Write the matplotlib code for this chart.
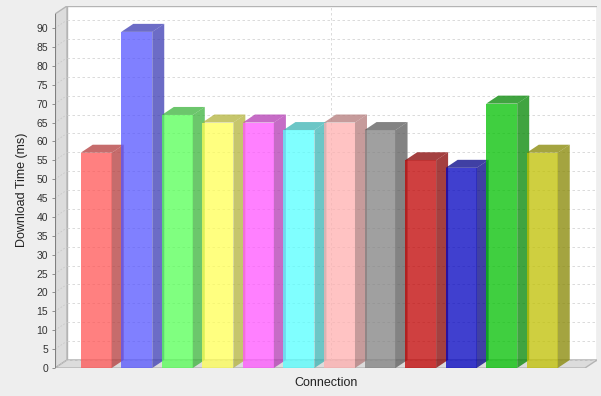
import matplotlib
matplotlib.use("Agg")
import matplotlib.pyplot as plt
from matplotlib.patches import Polygon
from matplotlib.colors import to_rgb

plt.rcParams['font.family'] = ['Liberation Sans', 'DejaVu Sans']

# data
download_ms = [57, 89, 67, 65, 65, 63, 65, 63, 55, 53, 70, 57]
series_colors = ['#ff5555', '#5555ff', '#55ff55', '#ffff55', '#ff55ff', '#55ffff',
                 '#ffafaf', '#808080', '#c00000', '#0000c0', '#00c000', '#c0c000']
y_ticks = list(range(0, 95, 5))

x_title = "Connection"
y_title = "Download Time (ms)"

# 3d look
DX = 0.296      # depth offset in category units
DY = 2.12       # depth offset in value units
BAR_W = 0.764
XMIN, XMAX = -1.016, 12.35
YMAX = 95.85
ALPHA = 0.75

fig = plt.figure(figsize=(6.01, 3.96), dpi=100, facecolor='#eeeeee')
ax = fig.add_axes([55 / 601, 28 / 396, 542 / 601, 362 / 396])
ax.set_xlim(XMIN, XMAX)
ax.set_ylim(0, YMAX)
ax.set_facecolor('none')
for s in ax.spines.values():
    s.set_visible(False)

edge = '#b4b4b4'
# back wall, left wall, floor
ax.add_patch(Polygon([(XMIN + DX, DY), (XMAX, DY), (XMAX, YMAX), (XMIN + DX, YMAX)],
                     closed=True, facecolor='white', edgecolor=edge, lw=1, zorder=0))
ax.add_patch(Polygon([(XMIN, 0), (XMIN + DX, DY), (XMIN + DX, YMAX), (XMIN, YMAX - DY)],
                     closed=True, facecolor='#dcdcdc', edgecolor=edge, lw=1, zorder=0))
ax.add_patch(Polygon([(XMIN, 0), (XMAX - DX, 0), (XMAX, DY), (XMIN + DX, DY)],
                     closed=True, facecolor='#dcdcdc', edgecolor=edge, lw=1, zorder=0))

# grid lines on walls
for v in y_ticks:
    ax.plot([XMIN + DX, XMAX], [v + DY, v + DY], color='#d4d4d4', lw=0.6,
            ls=(0, (3, 3)), zorder=0.5)
    ax.plot([XMIN, XMIN + DX], [v, v + DY], color='#c8c8c8', lw=0.6,
            ls=(0, (2, 2)), zorder=0.5)
mid = (len(download_ms) - 1) / 2
ax.plot([mid + DX, mid + DX], [DY, YMAX], color='#d4d4d4', lw=0.6,
        ls=(0, (3, 3)), zorder=0.5)


def darker(c, f=0.7):
    r, g, b = to_rgb(c)
    return (r * f, g * f, b * f)


xs = range(len(download_ms))
bars = ax.bar(xs, download_ms, width=BAR_W, color=series_colors, alpha=ALPHA,
              linewidth=0, zorder=1)
for i, (b, v, c) in enumerate(zip(bars, download_ms, series_colors)):
    b.set_zorder(1 + i)
    x0 = b.get_x()
    x1 = x0 + b.get_width()
    dc = darker(c)
    ax.add_patch(Polygon([(x1, 0), (x1 + DX, DY), (x1 + DX, v + DY), (x1, v)],
                         closed=True, facecolor=dc, alpha=ALPHA, lw=0, zorder=1 + i))
    ax.add_patch(Polygon([(x0, v), (x1, v), (x1 + DX, v + DY), (x0 + DX, v + DY)],
                         closed=True, facecolor=dc, alpha=ALPHA, lw=0, zorder=1 + i))

# front left axis line
ax.plot([XMIN, XMIN], [0, YMAX - DY], color='#808080', lw=0.8, zorder=20)

ax.set_xticks([])
ax.set_yticks(y_ticks)
ax.set_yticklabels([str(t) for t in y_ticks], fontsize=7.5, color='#333333')
ax.tick_params(axis='y', length=2, width=0.6, color='#808080', pad=3)

fig.text(22 / 601, 1 - 190 / 396, y_title, rotation=90, ha='center', va='center',
         fontsize=9, color='#222222')
fig.text(326 / 601, 1 - 383 / 396, x_title, ha='center', va='center',
         fontsize=9, color='#222222')

fig.savefig('out.png', dpi=100, facecolor=fig.get_facecolor())
